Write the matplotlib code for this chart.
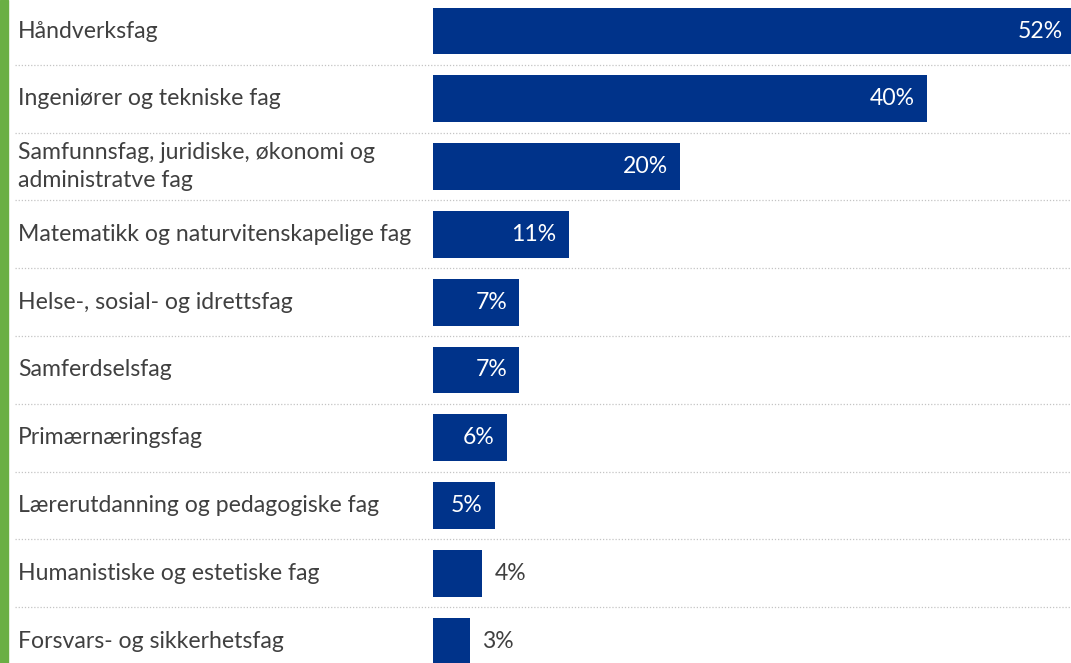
import matplotlib.pyplot as plt
import matplotlib.transforms as mtransforms
from matplotlib.patches import Rectangle

categories = [
    "Håndverksfag",
    "Ingeniører og tekniske fag",
    "Samfunnsfag, juridiske, økonomi og\nadministratve fag",
    "Matematikk og naturvitenskapelige fag",
    "Helse-, sosial- og idrettsfag",
    "Samferdselsfag",
    "Primærnæringsfag",
    "Lærerutdanning og pedagogiske fag",
    "Humanistiske og estetiske fag",
    "Forsvars- og sikkerhetsfag",
]
values = [52, 40, 20, 11, 7, 7, 6, 5, 4, 3]

W, H = 1071, 663
bar_color = "#00338a"
text_color = "#404040"

plt.rcParams['font.family'] = ['Lato', 'DejaVu Sans']

fig = plt.figure(figsize=(W / 100, H / 100), dpi=100)
ax = fig.add_axes([433 / W, 0, 638 / W, 1])

px_per_pct = 12.35
pitch = 67.8
ax.set_xlim(0, 638 / px_per_pct)
ax.set_ylim((H - 31) / pitch, -31 / pitch)
ax.axis("off")

ys = list(range(len(categories)))
ax.barh(ys, values, height=0.69, color=bar_color, edgecolor="none")

# left green strip
fig.patches.append(Rectangle((0, 0), 8 / W, 1, transform=fig.transFigure,
                             color="#6aaf45", zorder=5))

# dotted separators
for i in range(len(categories) - 1):
    ax.axhline(i + 0.5, xmin=(15 - 433) / 638, xmax=1, color="#c4c4c4",
               linestyle=(0, (1, 1.5)), linewidth=0.9, clip_on=False)

lbl_trans = mtransforms.blended_transform_factory(fig.transFigure, ax.transData)
for y, cat in zip(ys, categories):
    ax.text(18 / W, y, cat, transform=lbl_trans, ha="left", va="center",
            fontsize=16.6, color=text_color, linespacing=1.4)

for y, v in zip(ys, values):
    if v >= 5:
        ax.text(v - 1.0, y, f"{v}%", ha="right", va="center",
                fontsize=16.6, color="white")
    else:
        ax.text(v + 1.0, y, f"{v}%", ha="left", va="center",
                fontsize=16.6, color=text_color)

fig.savefig("out.png", dpi=100)
